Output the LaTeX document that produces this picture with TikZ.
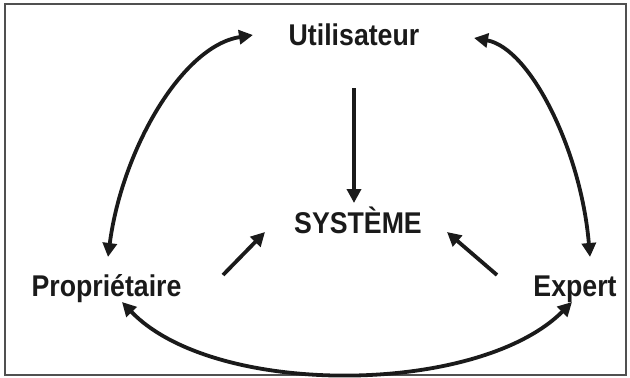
\documentclass[tikz,border=0pt]{standalone}
\usepackage{fontspec}
\setmainfont{Liberation Sans}
\usetikzlibrary{arrows.meta,calc}
\definecolor{ink}{HTML}{1A1A1A}
\definecolor{frame}{HTML}{505050}
\tikzset{
  lbl/.style={anchor=base, inner sep=0pt, text=ink, font=\fontsize{30}{32}\selectfont\bfseries},
  arr/.style={draw=ink, line width=3.8pt, -{Triangle[length=14pt,width=14pt]}},
  darr/.style={draw=ink, line width=3.8pt, {Triangle[length=14pt,width=14pt]}-{Triangle[length=14pt,width=14pt]}},
}
\begin{document}
\begin{tikzpicture}[x=1pt,y=-1pt]
\useasboundingbox (0,0) rectangle (630,378);
\draw[frame, line width=2pt] (5,4) rectangle (626,375);
\node[lbl] (U) at (354,45) {\scalebox{0.89}[1]{Utilisateur}};
\node[lbl] (S) at (358,233) {\scalebox{0.89}[1]{SYSTÈME}};
\node[lbl] (P) at (106.5,296) {\scalebox{0.89}[1]{Propriétaire}};
\node[lbl] (E) at (575,296) {\scalebox{0.89}[1]{Expert}};
% down arrow
\draw[arr] ($(U.base)+(0,43)$) -- ($(S.base)+(-4,-30)$);
% diagonal arrows
\draw[arr] ($(P.base)+(116.5,-21)$) -- ($(S.base)+(-93,-1)$);
\draw[arr] ($(E.base)+(-78,-21)$) -- ($(S.base)+(89,-1)$);
% left arc
\draw[darr] ($(P.base)+(1.5,-39)$) .. controls (122,150) and (182,46) .. ($(U.base)+(-101,-10)$);
% right arc
\draw[darr] ($(U.base)+(120,-7)$) .. controls (530,48) and (581,150) .. ($(E.base)+(15,-39)$);
% bottom arc
\draw[darr] ($(P.base)+(15.5,6)$) .. controls (214,398) and (478,396) .. ($(E.base)+(-3,6)$);
\end{tikzpicture}
\end{document}
